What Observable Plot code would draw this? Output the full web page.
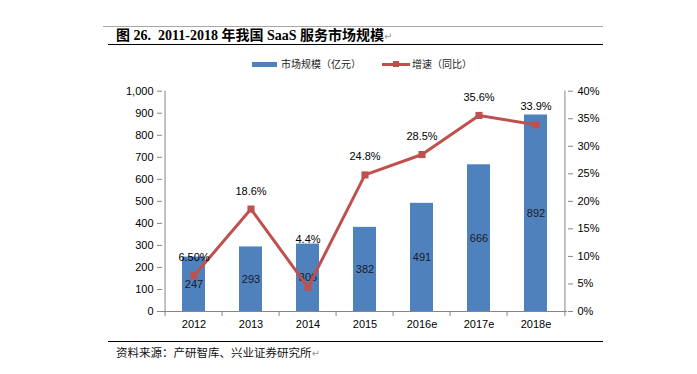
<!DOCTYPE html>
<html><head><meta charset="utf-8">
<script src="https://cdn.jsdelivr.net/npm/d3@7"></script>
<script src="https://cdn.jsdelivr.net/npm/@observablehq/plot@0.6"></script>
<style>
body{margin:0;background:#fff;width:697px;height:374px;position:relative;overflow:hidden;font-family:"Noto Sans CJK SC",sans-serif;}
.abs{position:absolute;white-space:nowrap;}
.pm{color:#9a9a9a;font-weight:normal;font-size:10px;font-family:"DejaVu Sans",sans-serif;}
</style></head><body>
<div class="abs" style="left:103px;top:26px;width:500px;border-top:1px solid #a8a8a8"></div>
<div class="abs" id="title" style="left:116px;top:27px;font-size:14px;font-weight:bold;line-height:17px;font-family:'Liberation Serif','Noto Sans CJK SC',serif;"></div>
<div class="abs" style="left:108px;top:44px;width:495px;border-top:1.5px solid #000"></div>
<div class="abs" id="legend" style="left:0;top:56px;width:697px;height:16px;"></div>
<div id="chart" class="abs" style="left:0;top:70px"></div>
<div class="abs" style="left:108px;top:341px;width:495px;border-top:1.5px solid #000"></div>
<div class="abs" id="source" style="left:116px;top:344px;font-size:11.5px;line-height:16px;color:#111;"></div>
<script>
const titleText = "图 26.  2011-2018 年我国 SaaS 服务市场规模";
const sourceText = "资料来源：产研智库、兴业证券研究所";
const seriesNames = ["市场规模（亿元）", "增速（同比）"];
const years = ["2012", "2013", "2014", "2015", "2016e", "2017e", "2018e"];
const marketSize = [247, 293, 306, 382, 491, 666, 892];
const growth = [6.5, 18.6, 4.4, 24.8, 28.5, 35.6, 33.9];
const growthLabels = ["6.50%", "18.6%", "4.4%", "24.8%", "28.5%", "35.6%", "33.9%"];
const leftTicks = [0, 100, 200, 300, 400, 500, 600, 700, 800, 900, 1000];
const rightTicks = [0, 5, 10, 15, 20, 25, 30, 35, 40];

const barColor = "#4F81BD", lineColor = "#C0504D", axisColor = "#868686";

document.getElementById("title").innerHTML = titleText.replace(/  /g, "&nbsp; ") + '<span class="pm">↵</span>';
document.getElementById("source").innerHTML = sourceText + '<span class="pm">↵</span>';

// legend
const lg = document.getElementById("legend");
lg.innerHTML =
  `<div class="abs" style="left:252px;top:6px;width:25px;height:4.5px;background:${barColor}"></div>` +
  `<div class="abs" style="left:281px;top:0px;font-size:10px;line-height:16px;color:#222">${seriesNames[0]}</div>` +
  `<div class="abs" style="left:382px;top:7px;width:28px;height:2.5px;background:${lineColor}"></div>` +
  `<div class="abs" style="left:393px;top:5px;width:6px;height:6px;background:${lineColor}"></div>` +
  `<div class="abs" style="left:412px;top:0px;font-size:10px;line-height:16px;color:#222">${seriesNames[1]}</div>`;

const W = 697, H = 270, mL = 162, mR = 130, mT = 20.7, mB = 29;
const step = (W - mL - mR) / years.length;
const pxPerUnit = (H - mT - mB) / 1000;
const ratio = 1000 / 40;
const tickLen = 5 / pxPerUnit;

const data = years.map((y, i) => {
  const gy = growth[i] * ratio;
  let ly = gy + 18 / pxPerUnit;
  if (ly < marketSize[i] - 4 / pxPerUnit) ly = marketSize[i] + 4.6 / pxPerUnit;
  return {year: y, size: marketSize[i], gy, ly, gl: growthLabels[i]};
});

const chart = Plot.plot({
  width: W, height: H,
  marginLeft: mL, marginRight: mR, marginTop: mT, marginBottom: mB,
  style: {fontFamily: '"Liberation Sans", Arial, sans-serif', fontSize: "11px", color: "#000", background: "transparent"},
  x: {domain: years, paddingInner: 0.6, paddingOuter: 0.3, label: null},
  y: {domain: [0, 1000], label: null},
  marks: [
    Plot.barY(data, {x: "year", y: "size", fill: barColor}),
    Plot.ruleY([0], {stroke: axisColor}),
    Plot.ruleX([years[0]], {dx: -step / 2, stroke: axisColor}),
    Plot.ruleX([years[years.length - 1]], {dx: step / 2, stroke: axisColor}),
    Plot.ruleX(years, {x: d => d, y1: 0, y2: -tickLen, dx: -step / 2, stroke: axisColor}),
    Plot.ruleX([years[years.length - 1]], {x: d => d, y1: 0, y2: -tickLen, dx: step / 2, stroke: axisColor}),
    Plot.axisY(leftTicks, {anchor: "left", label: null, tickFormat: d3.format(","), tickSize: 5, tickPadding: 4, stroke: axisColor, fill: "#000", fontSize: 11}),
    Plot.axisY(rightTicks.map(d => d * ratio), {anchor: "right", label: null, tickFormat: d => (d / ratio) + "%", tickSize: 5, tickPadding: 5, stroke: axisColor, fill: "#000", fontSize: 11}),
    Plot.axisX({anchor: "bottom", label: null, tickSize: 0, tickPadding: 9, fill: "#000", fontSize: 11}),
    Plot.text(data, {x: "year", y: d => d.size / 2, text: d => String(d.size), fill: "#1a1a2a", fontSize: 11}),
    Plot.line(data, {x: "year", y: "gy", stroke: lineColor, strokeWidth: 3}),
    Plot.dot(data, {x: "year", y: "gy", symbol: "square", r: 4, fill: lineColor, stroke: "none"}),
    Plot.text(data, {x: "year", y: "ly", text: "gl", fill: "#000", fontSize: 11})
  ]
});
document.getElementById("chart").appendChild(chart);
</script>
</body></html>
